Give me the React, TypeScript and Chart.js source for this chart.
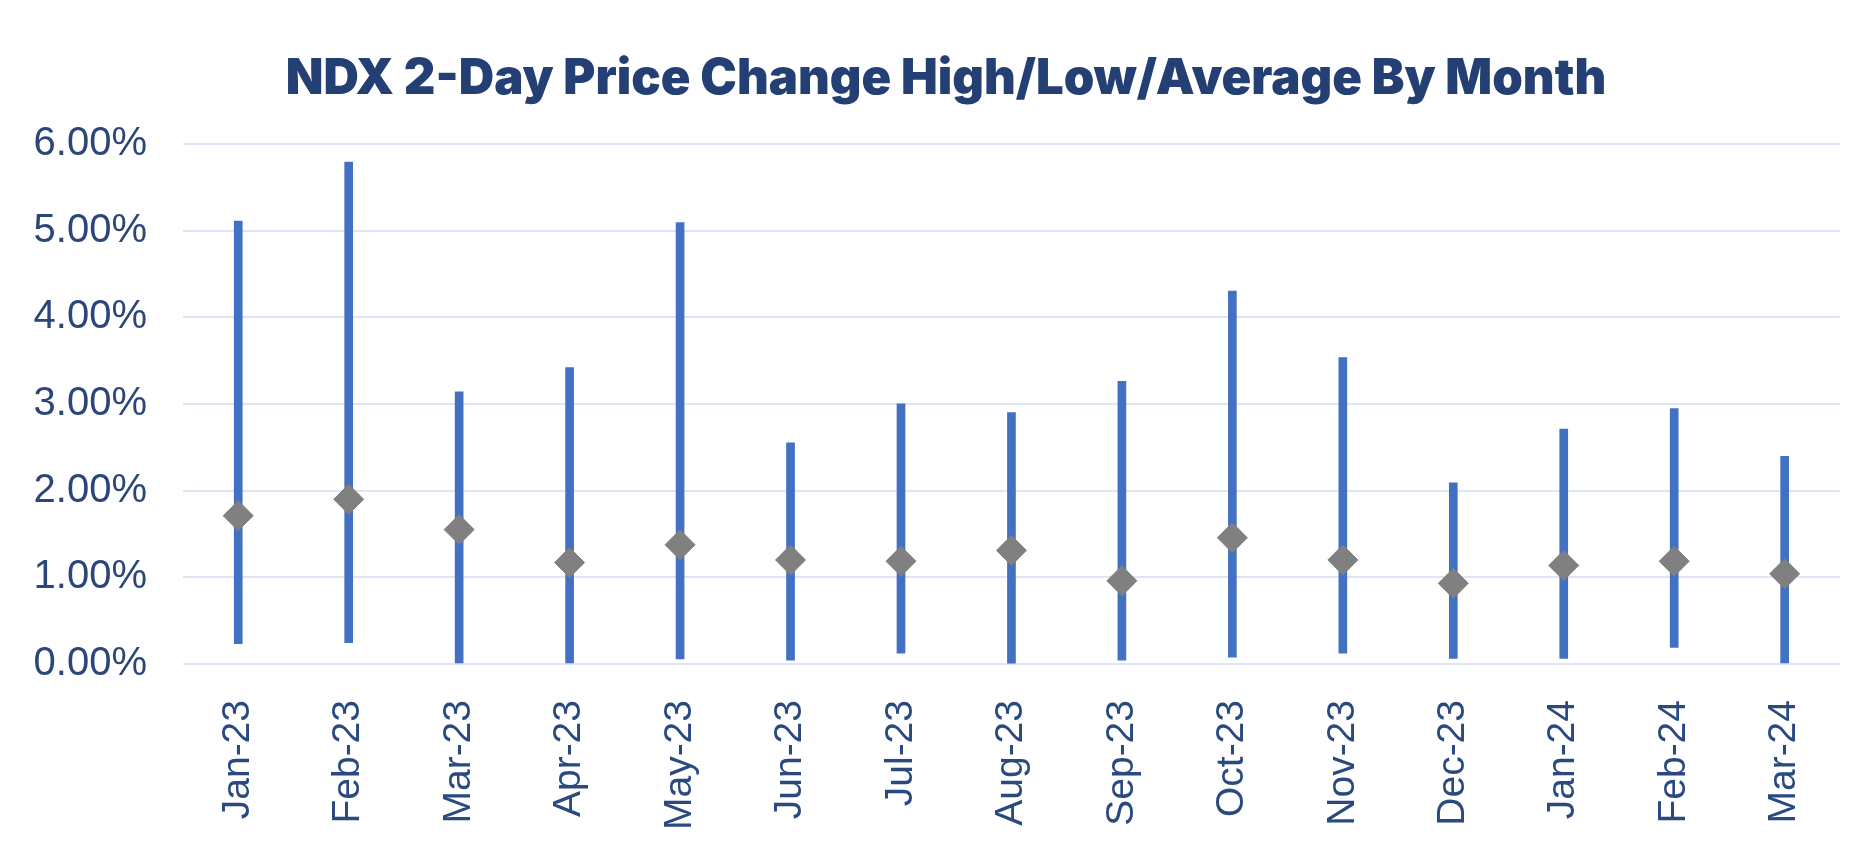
import React, { useEffect, useRef } from "react";
import { Chart, registerables } from "chart.js";

Chart.register(...registerables);

const months = ["Jan-23", "Feb-23", "Mar-23", "Apr-23", "May-23", "Jun-23", "Jul-23", "Aug-23", "Sep-23", "Oct-23", "Nov-23", "Dec-23", "Jan-24", "Feb-24", "Mar-24"];
const highs = [5.11, 5.79, 3.14, 3.42, 5.09, 2.55, 3.0, 2.9, 3.26, 4.3, 3.535, 2.09, 2.71, 2.945, 2.395];
const lows = [0.235, 0.247, 0.0, 0.0, 0.06, 0.045, 0.125, 0.01, 0.045, 0.08, 0.125, 0.065, 0.065, 0.19, 0.0];
const averages = [1.71, 1.9, 1.55, 1.17, 1.375, 1.2, 1.185, 1.31, 0.96, 1.456, 1.2, 0.93, 1.137, 1.185, 1.04];
const yTicks = [0, 1, 2, 3, 4, 5, 6];

const titleShift = {
  id: "titleShift",
  afterLayout(chart: any) {
    if (chart.titleBlock) {
      chart.titleBlock.left = 47;
    }
  },
};

export default function App() {
  const ref = useRef<HTMLCanvasElement | null>(null);

  useEffect(() => {
    if (!ref.current) return;
    const ranges = months.map((_, i) => [lows[i], highs[i]]);
    const chart = new Chart(ref.current, {
      type: "bar",
      data: {
        labels: months,
        datasets: [
          {
            type: "line",
            label: "Average",
            data: averages,
            showLine: false,
            pointStyle: "rectRot",
            pointRadius: 15,
            pointBackgroundColor: "#808080",
            pointBorderColor: "#808080",
            pointBorderWidth: 1,
            order: 0,
          } as any,
          {
            type: "bar",
            label: "Range",
            data: ranges as any,
            backgroundColor: "#4270C2",
            borderWidth: 0,
            borderSkipped: false,
            barThickness: 8,
            order: 1,
          },
        ],
      },
      plugins: [titleShift],
      options: {
        animation: false,
        responsive: true,
        maintainAspectRatio: false,
        layout: { padding: { left: 0, right: 15, top: 0, bottom: 0 } },
        plugins: {
          legend: { display: false },
          tooltip: { enabled: false },
          title: {
            display: true,
            text: "NDX 2-Day Price Change High/Low/Average By Month",
            color: "#243F73",
            font: { family: "Inter", size: 49, weight: 900 as any, lineHeight: 1.2 },
            padding: { top: 50, bottom: 35 },
          },
        },
        scales: {
          x: {
            grid: { display: false },
            border: { display: false },
            afterFit: (a: any) => {
              a.height = 204;
            },
            ticks: {
              color: "#2A4A7F",
              font: { family: "Liberation Sans", size: 39 },
              minRotation: 90,
              maxRotation: 90,
              padding: 28,
              autoSkip: false,
            },
          },
          y: {
            min: 0,
            max: 6,
            afterBuildTicks: (axis: any) => {
              axis.ticks = yTicks.map((v) => ({ value: v }));
            },
            afterFit: (a: any) => {
              a.width = 183;
            },
            grid: { color: "#DCE6F6", lineWidth: 2, drawTicks: false },
            border: { display: false },
            ticks: {
              color: "#2C4679",
              font: { family: "Liberation Sans", size: 40 },
              padding: 36,
              callback: (v: any) => Number(v).toFixed(2) + "%",
            },
          },
        },
      },
    });
    return () => chart.destroy();
  }, []);

  return (
    <div style={{ position: "fixed", left: 0, top: 0, width: 1860, height: 868, background: "#fff" }}>
      <canvas ref={ref} />
    </div>
  );
}
